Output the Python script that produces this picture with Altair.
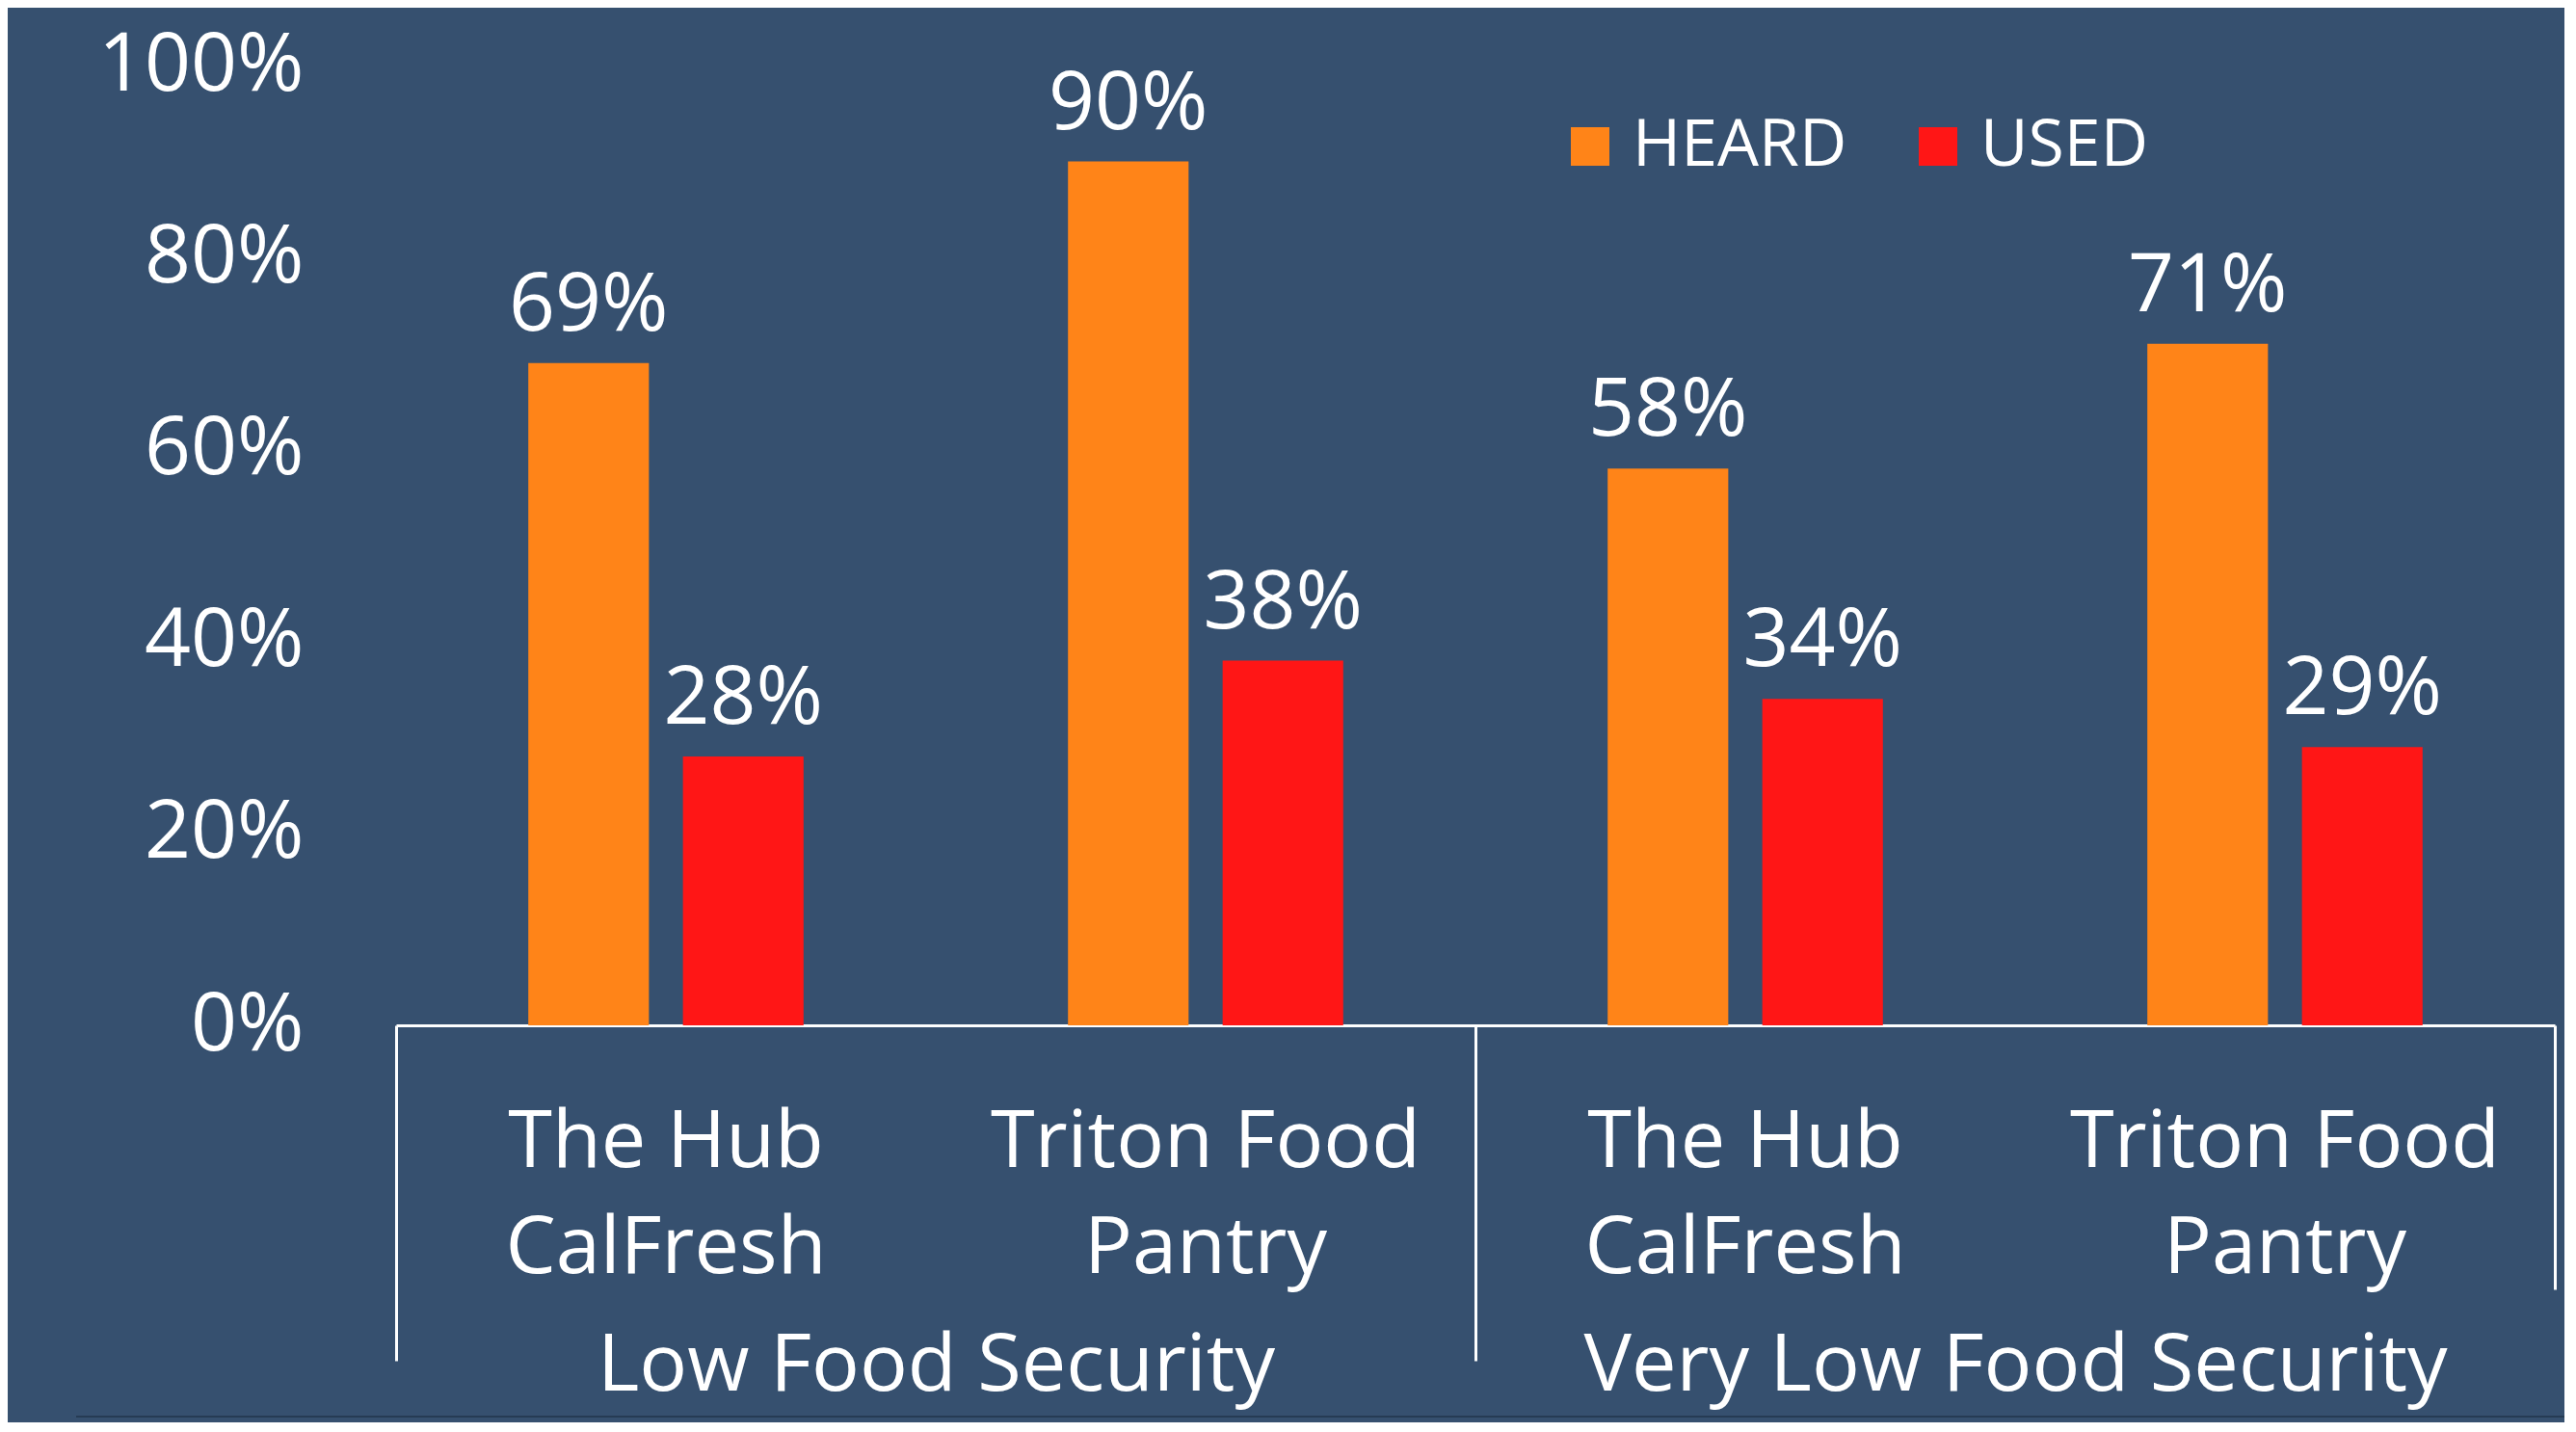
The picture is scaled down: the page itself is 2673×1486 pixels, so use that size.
import altair as alt
import pandas as pd

FONT = "Open Sans"
BG = "#36506F"

groups = ["Low Food Security", "Very Low Food Security"]
subcats = ["The Hub\nCalFresh", "Triton Food\nPantry"]
series = ["HEARD", "USED"]
heard = [0.69, 0.90, 0.58, 0.71]
used = [0.28, 0.38, 0.34, 0.29]
y_ticks = [0, 0.2, 0.4, 0.6, 0.8, 1.0]
colors = ["#FF8418", "#FF1616"]

rows = []
keys = []
i = 0
for g in groups:
    for s in subcats:
        key = g + "|" + s
        keys.append(key)
        rows.append({"key": key, "group": g, "series": "HEARD", "value": heard[i]})
        rows.append({"key": key, "group": g, "series": "USED", "value": used[i]})
        i += 1
df = pd.DataFrame(rows)
gdf = pd.DataFrame({"group": groups})

x_scale = alt.Scale(paddingInner=0.49, paddingOuter=0.245)
xoff = alt.XOffset("series:N", sort=series, scale=alt.Scale(paddingInner=0.22, paddingOuter=0))
y_enc = alt.Y(
    "value:Q",
    title=None,
    scale=alt.Scale(domain=[0, 1]),
    axis=alt.Axis(
        values=y_ticks, format=".0%", labelFont=FONT, labelFontSize=84,
        labelColor="white", labelPadding=96, labelLimit=1000,
        domain=False, ticks=False, grid=False, labelBaseline="middle",
    ),
)

bars = alt.Chart(df).mark_bar().encode(
    x=alt.X(
        "key:N", sort=keys, title=None, scale=x_scale,
        axis=alt.Axis(
            orient="bottom",
            labelExpr="split(split(datum.value, '|')[1], '\\n')",
            labelFont=FONT, labelFontSize=83, labelColor="white",
            labelLineHeight=110, labelBaseline="top", labelPadding=80,
            labelLimit=2000, labelAngle=0, ticks=False,
            domain=True, domainColor="white", domainWidth=3, grid=False,
        ),
    ),
    xOffset=xoff,
    y=y_enc,
    color=alt.Color(
        "series:N",
        scale=alt.Scale(domain=series, range=colors),
        legend=alt.Legend(
            title=None, orient="none", legendX=1205, legendY=50,
            direction="horizontal", symbolType="square", symbolSize=1600,
            symbolStrokeWidth=0, labelFont=FONT, labelFontSize=68,
            labelColor="white", labelOffset=10, columnPadding=60,
            padding=0, labelLimit=1000,
        ),
    ),
)

labels = alt.Chart(df).mark_text(
    baseline="alphabetic", dy=-34, font=FONT, fontSize=84, color="white"
).encode(
    x=alt.X("key:N", sort=keys, title=None, scale=x_scale, axis=None),
    xOffset=xoff,
    y=y_enc,
    text=alt.Text("value:Q", format=".0%"),
)

mid_test = "datum.value == 'Very Low Food Security'"

grp_outer = alt.Chart(gdf).mark_text(opacity=0, text="").encode(
    x=alt.X(
        "group:N", sort=groups, title=None,
        scale=alt.Scale(paddingInner=0, paddingOuter=0),
        axis=alt.Axis(
            orient="bottom", domain=False, grid=False, ticks=True,
            tickBand="extent", tickSize=348, tickWidth=3, tickColor="white",
            tickOpacity={"condition": {"test": mid_test, "value": 0}, "value": 1},
            labelFont=FONT, labelFontSize=83, labelColor="white",
            labelBaseline="alphabetic", labelPadding=30, labelLimit=2000,
            labelAngle=0,
        ),
    )
)

grp_mid = alt.Chart(gdf).mark_text(opacity=0, text="").encode(
    x=alt.X(
        "group:N", sort=groups, title=None,
        scale=alt.Scale(paddingInner=0, paddingOuter=0),
        axis=alt.Axis(
            orient="bottom", domain=False, grid=False, ticks=True,
            tickBand="extent", tickSize=274, tickWidth=3, tickColor="white",
            tickOpacity={"condition": {"test": mid_test, "value": 1}, "value": 0},
            labels=False,
        ),
    )
)

# thin dark separator line along the bottom of the slide
bottom_line = alt.Chart(gdf.head(1)).mark_rule(color="#263B54", strokeWidth=2).encode(
    x=alt.value(-332), x2=alt.value(2262), y=alt.value(1402)
)

chart = alt.layer(bars, labels, grp_outer, grp_mid, bottom_line).resolve_scale(
    x="independent"
).properties(
    width=2240,
    height=996,
    padding={"left": 403, "top": 60, "right": 10, "bottom": 412},
    autosize=alt.AutoSizeParams(type="none"),
    background=BG,
).configure_view(stroke=None)

chart.save("out.html", embed_options={"renderer": "svg", "actions": False})
